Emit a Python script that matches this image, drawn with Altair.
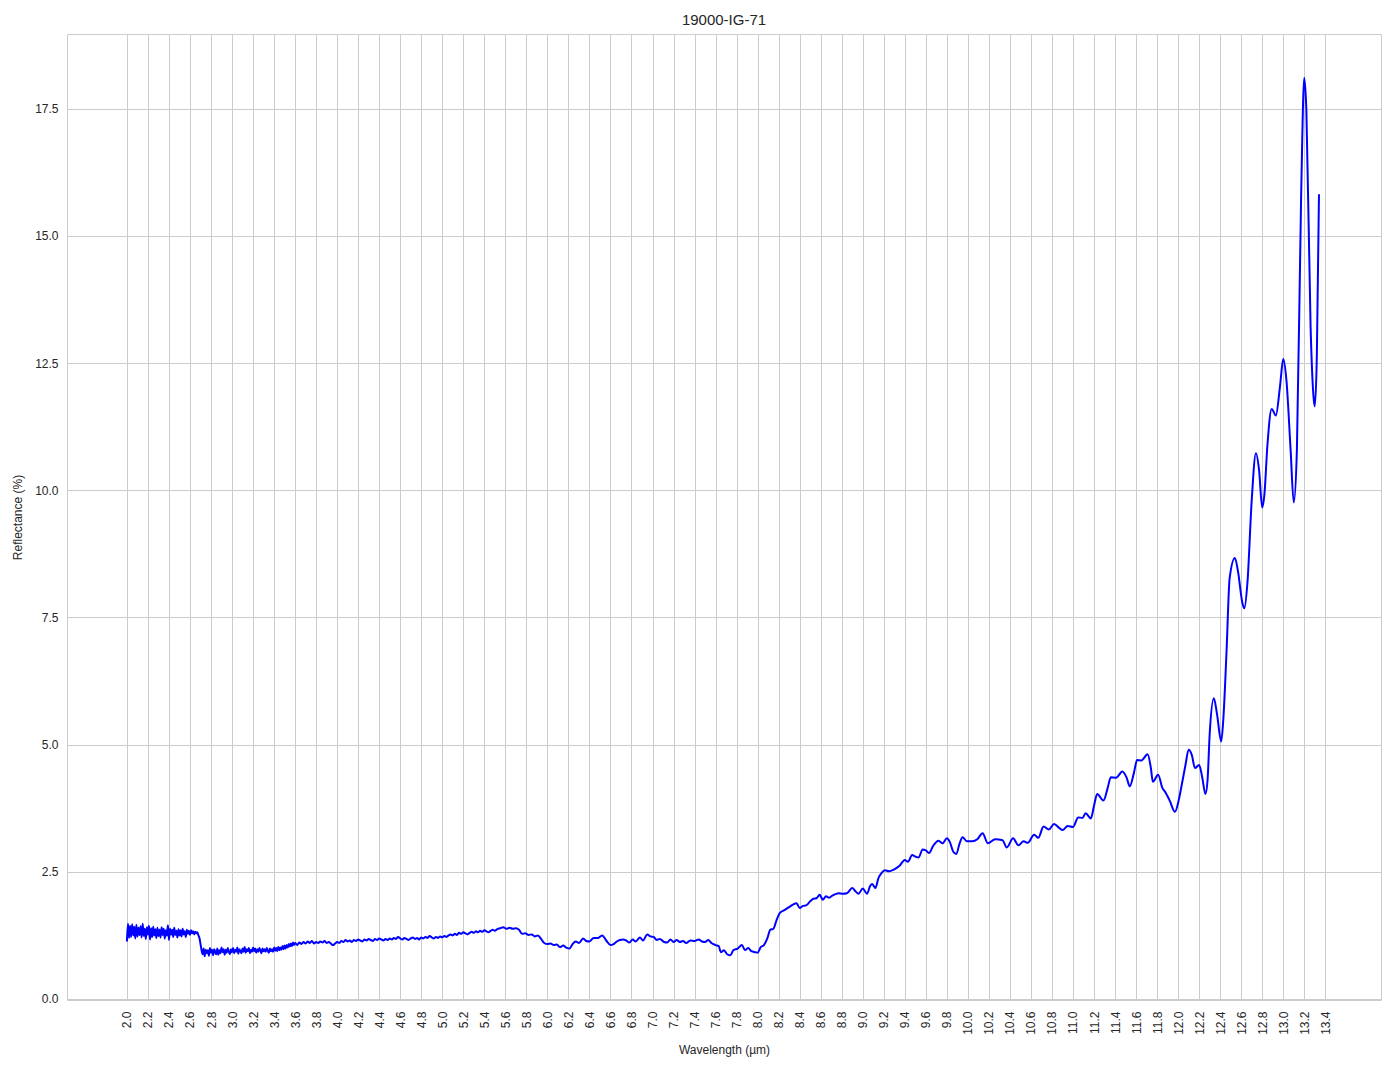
import altair as alt
import pandas as pd
import numpy as np

# Noisy segment A: 2.00 -> 2.70, step 0.01
seg_a_start, seg_a_step = 2.00, 0.01
seg_a_vals = [1.13, 1.48, 1.20, 1.44, 1.22, 1.47, 1.25, 1.42, 1.19, 1.46,
              1.23, 1.40, 1.26, 1.43, 1.21, 1.48, 1.24, 1.38, 1.18, 1.41,
              1.27, 1.44, 1.17, 1.39, 1.22, 1.42, 1.25, 1.37, 1.20, 1.40,
              1.24, 1.36, 1.21, 1.41, 1.26, 1.38, 1.19, 1.35, 1.25, 1.45,
              1.16, 1.38, 1.27, 1.36, 1.22, 1.40, 1.26, 1.34, 1.21, 1.37,
              1.25, 1.35, 1.23, 1.38, 1.27, 1.33, 1.22, 1.36, 1.28, 1.34,
              1.26, 1.35, 1.29, 1.33, 1.27, 1.32, 1.29, 1.31, 1.25, 1.20,
              1.08]

# Noisy segment B: 2.71 -> 3.60, step 0.01
seg_b_start, seg_b_step = 2.71, 0.01
seg_b_vals = [0.96, 0.88, 0.99, 0.84, 0.97, 0.90, 0.96, 0.85, 1.00, 0.91,
              0.97, 0.86, 0.98, 0.92, 0.88, 0.99, 0.87, 0.96, 0.90, 1.01,
              0.92, 0.98, 0.87, 0.97, 0.91, 1.00, 0.93, 0.88, 0.98, 0.92,
              1.00, 0.90, 0.97, 0.93, 1.01, 0.89, 0.98, 0.94, 0.90, 0.99,
              0.93, 1.02, 0.91, 0.98, 0.94, 1.00, 0.90, 0.97, 0.93, 1.01,
              0.94, 0.99, 0.91, 0.98, 0.93, 1.00, 0.95, 0.90, 0.99, 0.94,
              0.98, 0.93, 1.00, 0.95, 0.91, 0.99, 0.94, 0.98, 0.93, 1.01,
              0.95, 1.00, 0.94, 1.02, 0.96, 1.01, 0.97, 1.04, 0.98, 1.05,
              0.99, 1.06, 1.01, 1.08, 1.03, 1.09, 1.04, 1.11, 1.06, 1.10]

# Segment C: 3.62 -> 5.50, step 0.02
seg_c_start, seg_c_step = 3.62, 0.02
seg_c_vals = [1.06, 1.11, 1.08, 1.12, 1.09, 1.13, 1.10, 1.14, 1.09, 1.12,
              1.10, 1.13, 1.11, 1.14, 1.10, 1.12, 1.09, 1.06, 1.09, 1.12,
              1.10, 1.14, 1.12, 1.16, 1.13, 1.15, 1.12, 1.16, 1.14, 1.17,
              1.15, 1.13, 1.17, 1.15, 1.18, 1.16, 1.14, 1.18, 1.16, 1.19,
              1.17, 1.15, 1.18, 1.16, 1.19, 1.17, 1.20, 1.18, 1.22, 1.19,
              1.17, 1.20, 1.18, 1.16, 1.19, 1.21, 1.18, 1.20, 1.17, 1.21,
              1.19, 1.22, 1.20, 1.24, 1.21, 1.19, 1.22, 1.20, 1.23, 1.21,
              1.24, 1.22, 1.25, 1.27, 1.25, 1.28, 1.26, 1.30, 1.28, 1.31,
              1.29, 1.27, 1.30, 1.32, 1.30, 1.33, 1.31, 1.34, 1.32, 1.35,
              1.33, 1.31, 1.34, 1.36, 1.34]

# Segment D: explicit wavelengths / values
seg_d_wl = [5.52, 5.55, 5.58, 5.61, 5.64, 5.67, 5.70, 5.73, 5.76, 5.79,
            5.82, 5.85, 5.88, 5.91, 5.94, 5.97, 6.00, 6.03, 6.06, 6.09,
            6.12, 6.15, 6.18, 6.21, 6.24, 6.27, 6.30, 6.34, 6.37, 6.40,
            6.44, 6.48, 6.52, 6.56, 6.60, 6.63, 6.66, 6.69, 6.72, 6.75,
            6.78, 6.81, 6.84, 6.88, 6.91, 6.95, 6.98, 7.01, 7.04, 7.07,
            7.11, 7.14, 7.17, 7.20, 7.23, 7.26, 7.29, 7.32, 7.36, 7.40,
            7.44, 7.47, 7.50, 7.53, 7.56, 7.60, 7.63, 7.65, 7.68, 7.71,
            7.74, 7.77, 7.81, 7.85, 7.88, 7.91, 7.94, 7.98, 8.00, 8.03,
            8.06, 8.09, 8.12, 8.15, 8.18, 8.21, 8.25, 8.28, 8.31, 8.34,
            8.37, 8.40, 8.43, 8.46, 8.50, 8.53, 8.56, 8.59, 8.62, 8.65,
            8.68, 8.71, 8.74, 8.77, 8.81, 8.85, 8.90, 8.93, 8.96, 9.00,
            9.04, 9.07, 9.09, 9.12, 9.15, 9.18, 9.21, 9.25, 9.30, 9.35,
            9.40, 9.43, 9.47, 9.50, 9.53, 9.57, 9.60, 9.63, 9.67, 9.72,
            9.76, 9.80, 9.83, 9.86, 9.89, 9.92, 9.95, 9.99, 10.04, 10.09,
            10.14, 10.19, 10.26, 10.33, 10.37, 10.43, 10.48, 10.53, 10.57, 10.63,
            10.67, 10.72, 10.77, 10.82, 10.87, 10.90, 10.95, 11.00, 11.05, 11.09,
            11.12, 11.17, 11.20, 11.23, 11.29, 11.33, 11.36, 11.41, 11.47, 11.51,
            11.54, 11.58, 11.61, 11.65, 11.71, 11.74, 11.76, 11.81, 11.85, 11.88,
            11.92, 11.97, 12.01, 12.04, 12.07, 12.10, 12.13, 12.16, 12.20, 12.23,
            12.26, 12.28, 12.30, 12.34, 12.37, 12.41, 12.43, 12.46, 12.49, 12.54,
            12.57, 12.61, 12.63, 12.66, 12.70, 12.74, 12.77, 12.80, 12.82, 12.85,
            12.89, 12.93, 12.97, 13.00, 13.03, 13.07, 13.10, 13.13, 13.17, 13.20,
            13.22, 13.26, 13.29, 13.30, 13.32, 13.34]
seg_d_vals = [1.37, 1.39, 1.41, 1.38, 1.40, 1.38, 1.39, 1.36, 1.28, 1.29,
              1.26, 1.27, 1.23, 1.25, 1.18, 1.10, 1.08, 1.09, 1.06, 1.07,
              1.02, 1.05, 1.01, 0.99, 1.08, 1.13, 1.10, 1.19, 1.14, 1.13,
              1.20, 1.20, 1.25, 1.15, 1.06, 1.08, 1.13, 1.16, 1.17, 1.15,
              1.11, 1.17, 1.13, 1.21, 1.15, 1.27, 1.23, 1.22, 1.16, 1.18,
              1.12, 1.11, 1.17, 1.12, 1.16, 1.12, 1.14, 1.10, 1.15, 1.14,
              1.17, 1.13, 1.12, 1.16, 1.10, 1.06, 1.04, 0.92, 0.96, 0.88,
              0.86, 0.96, 0.99, 1.06, 0.96, 1.00, 0.94, 0.92, 0.91, 1.02,
              1.06, 1.18, 1.36, 1.38, 1.55, 1.69, 1.74, 1.78, 1.82, 1.86,
              1.88, 1.79, 1.83, 1.84, 1.92, 1.97, 1.98, 2.05, 1.95, 2.02,
              1.99, 2.03, 2.06, 2.08, 2.07, 2.08, 2.18, 2.12, 2.07, 2.17,
              2.07, 2.22, 2.26, 2.18, 2.38, 2.48, 2.53, 2.51, 2.55, 2.62,
              2.73, 2.70, 2.83, 2.80, 2.78, 2.94, 2.92, 2.87, 3.01, 3.11,
              3.06, 3.16, 3.08, 2.90, 2.85, 3.05, 3.18, 3.10, 3.10, 3.14,
              3.26, 3.06, 3.14, 3.12, 2.98, 3.16, 3.02, 3.10, 3.07, 3.23,
              3.17, 3.39, 3.33, 3.44, 3.36, 3.32, 3.40, 3.38, 3.57, 3.56,
              3.65, 3.55, 3.80, 4.03, 3.90, 4.15, 4.36, 4.35, 4.47, 4.35,
              4.18, 4.45, 4.70, 4.69, 4.81, 4.55, 4.27, 4.41, 4.15, 4.06,
              3.90, 3.68, 3.95, 4.27, 4.60, 4.90, 4.80, 4.54, 4.60, 4.35,
              4.03, 4.30, 5.20, 5.91, 5.60, 5.06, 5.50, 6.80, 8.27, 8.67,
              8.40, 7.80, 7.68, 8.20, 9.80, 10.73, 10.40, 9.66, 9.90, 10.90,
              11.60, 11.47, 12.06, 12.58, 12.17, 10.80, 9.76, 10.80, 15.76, 18.11,
              17.48, 13.23, 11.79, 11.65, 12.68, 15.82]

x_ticks = [round(2.0 + 0.2 * i, 1) for i in range(58)]
y_ticks = [0.0, 2.5, 5.0, 7.5, 10.0, 12.5, 15.0, 17.5]

wl = []
vals = []
for start, step, vs in [(seg_a_start, seg_a_step, seg_a_vals),
                        (seg_b_start, seg_b_step, seg_b_vals),
                        (seg_c_start, seg_c_step, seg_c_vals)]:
    for i, v in enumerate(vs):
        wl.append(round(start + step * i, 4))
        vals.append(v)
wl += seg_d_wl
vals += seg_d_vals

df = pd.DataFrame({"Wavelength": wl, "Reflectance": vals})

FONT = "Liberation Sans"
TXT = "#262626"

axis_style = dict(grid=True, gridColor="#cccccc", gridWidth=1, domain=False,
                  ticks=False, tickSize=0,
                  labelFont=FONT, labelFontSize=12, labelColor=TXT,
                  titleFont=FONT, titleFontSize=12, titleColor=TXT,
                  titleFontWeight=400)

chart = alt.Chart(df).mark_line(
    color="#0000ff", strokeWidth=2, interpolate="monotone", clip=True
).encode(
    x=alt.X("Wavelength:Q",
            scale=alt.Scale(domain=[1.43, 13.93], nice=False, zero=False),
            axis=alt.Axis(values=x_ticks, format=".1f", labelAngle=270,
                          title="Wavelength (µm)", labelPadding=11,
                          titlePadding=10, **axis_style)),
    y=alt.Y("Reflectance:Q",
            scale=alt.Scale(domain=[-0.02, 18.97], nice=False, zero=False),
            axis=alt.Axis(values=y_ticks, format=".1f",
                          title="Reflectance (%)", labelPadding=9,
                          titlePadding=10, **axis_style)),
).properties(
    width=1314, height=966,
    background="white",
    title=alt.TitleParams("19000-IG-71", fontSize=15, font=FONT, color=TXT,
                          fontWeight=400, offset=6),
    autosize=alt.AutoSizeParams(type="none"),
    padding={"left": 59, "top": 26, "right": 5, "bottom": 60},
).configure_view(
    stroke="#cccccc", strokeWidth=1
)

chart.save("out.html", embed_options={"renderer": "svg", "actions": False})
